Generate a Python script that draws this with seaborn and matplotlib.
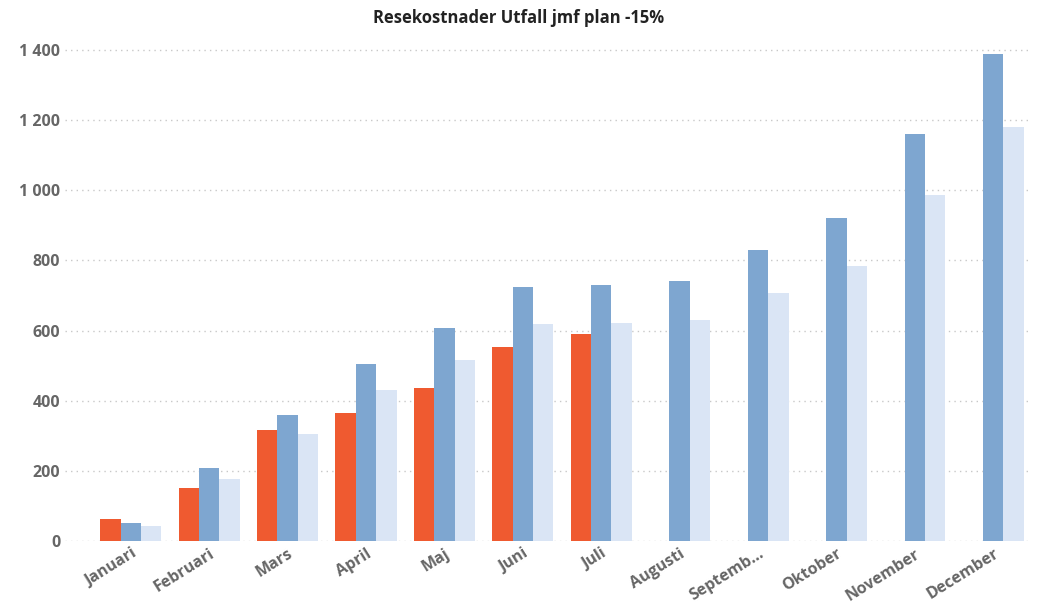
import pandas as pd
import numpy as np
import matplotlib
matplotlib.use("Agg")
import matplotlib.pyplot as plt
import seaborn as sns

# values
months = ["Januari", "Februari", "Mars", "April", "Maj", "Juni", "Juli",
          "Augusti", "Septemb...", "Oktober", "November", "December"]
utfall = [63, 151, 316, 365, 436, 553, 590, np.nan, np.nan, np.nan, np.nan, np.nan]
plan = [51, 208, 359, 505, 607, 724, 730, 741, 830, 921, 1160, 1388]
plan_minus15 = [43, 177, 305, 430, 516, 619, 621, 630, 707, 784, 986, 1180]

series = ["Utfall", "Plan", "Plan -15%"]
colors = ["#EF5A30", "#7EA6D0", "#DAE5F5"]

df = pd.DataFrame({"month": months * 3,
                   "serie": [s for s in series for _ in months],
                   "value": utfall + plan + plan_minus15})

sns.set_style("white")
plt.rcParams["font.family"] = ["Open Sans", "DejaVu Sans"]

fig = plt.figure(figsize=(10.38, 6.11), dpi=100)
ax = fig.add_axes([65 / 1038, 70 / 611, 965 / 1038, 496 / 611])

sns.barplot(data=df, x="month", y="value", hue="serie", palette=colors,
            width=0.78, gap=0, saturation=1, linewidth=0, ax=ax, legend=False)

ax.set_xlim(-0.84, 11.47)
ax.set_ylim(0, 1414)
ax.set_yticks([0, 200, 400, 600, 800, 1000, 1200, 1400])
ax.set_yticklabels([f"{v:,}".replace(",", " ") for v in ax.get_yticks().astype(int)])
ax.grid(axis="y", linestyle=(0, (1, 3)), color="#c8c8c8", linewidth=1)
ax.set_axisbelow(True)
for s in ax.spines.values():
    s.set_visible(False)

ax.set_xlabel("")
ax.set_ylabel("")
ax.tick_params(axis="both", length=0, colors="#666666")
plt.setp(ax.get_yticklabels(), fontsize=11.5, fontweight="bold", color="#666666")
plt.setp(ax.get_xticklabels(), fontsize=11.5, fontweight="bold", color="#666666",
         rotation=32, ha="right", rotation_mode="anchor")

fig.suptitle("Resekostnader Utfall jmf plan -15%", x=0.5, y=0.985,
             fontsize=12, fontweight="bold", color="#222222")

fig.savefig("out.png", dpi=100)
